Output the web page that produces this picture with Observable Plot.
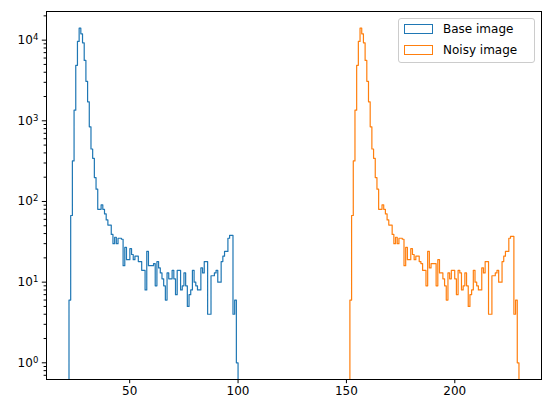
<!DOCTYPE html>
<html><head><meta charset="utf-8">
<script src="https://cdn.jsdelivr.net/npm/d3@7"></script>
<script src="https://cdn.jsdelivr.net/npm/@observablehq/plot@0.6"></script>
<style>
html,body{margin:0;padding:0;background:#fff;}
#wrap{position:relative;width:551px;height:413px;font-family:"DejaVu Sans",sans-serif;}
.legend{position:absolute;left:398px;top:18px;width:137px;height:45px;border:1px solid #cccccc;border-radius:3px;background:rgba(255,255,255,0.8);box-sizing:border-box;font-size:12px;color:#000;}
.item{position:absolute;left:5px;height:14px;display:flex;align-items:center;white-space:nowrap;}
.sw{width:29px;height:10px;box-sizing:border-box;border:1.3px solid;margin-right:10px;}
</style></head>
<body><div id="wrap"></div>
<script>
const seriesNames = ["Base image", "Noisy image"];
const seriesColors = ["#1f77b4", "#ff7f0e"];
const baseRange = [22, 100];
const noisyRange = [151.6, 229.6];
const baseCounts = [6,67,318,1355,4870,9640,14070,11960,9270,5610,
  3090,1717,843,447,343,198,142,80,80,91,
  80,70,59,51,51,39,30,36,30,35,
  35,34,16,27,19,19,26,22,19,21,
  21,18,18,14,14,8,24,16,16,16,
  17,9,18,15,13,11,9,6,13,11,
  11,14,11,7,14,14,8,9,13,9,
  5,7,8,14,10,9,8,8,15,13,
  18,18,4,4,12,12,13,14,10,10,
  18,21,24,24,35,38,38,4,6,1];
const noisyCounts = [6,67,318,1355,4870,9640,14070,11960,9270,5610,
  3090,1717,843,447,343,198,142,80,80,91,
  80,70,59,51,51,39,30,36,30,35,
  35,34,16,27,19,19,26,22,19,21,
  21,18,17,14,14,9,24,15,17,17,
  17,9,19,13,13,11,9,6,13,11,
  14,14,11,7,14,13,8,9,13,9,
  5,7,8,14,10,9,8,8,15,13,
  18,18,4,4,12,12,13,14,10,10,
  18,21,24,24,35,37,37,4,6,1];
const xTicks = [50, 100, 150, 200];
const yTicks = [1, 10, 100, 1000, 10000];
const xDomain = [11.62, 240.0];
const yDomain = [0.621, 22650];

const floorVal = 1e-3;
function stepPoints(range, counts, name) {
  const n = counts.length, w = (range[1] - range[0]) / n;
  const pts = [{x: range[0], y: floorVal, s: name}];
  counts.forEach((c, i) => {
    pts.push({x: range[0] + i * w, y: c, s: name});
    pts.push({x: range[0] + (i + 1) * w, y: c, s: name});
  });
  pts.push({x: range[1], y: floorVal, s: name});
  return pts;
}
const data = [
  ...stepPoints(baseRange, baseCounts, seriesNames[0]),
  ...stepPoints(noisyRange, noisyCounts, seriesNames[1])
];
const fmtPow = d => "10^" + Math.round(Math.log10(d));
const minorTicks = [];
for (let e = -1; e <= 4; e++) for (let m = 2; m <= 9; m++) {
  const v = m * Math.pow(10, e);
  if (v >= yDomain[0] && v <= yDomain[1]) minorTicks.push(v);
}

const chart = Plot.plot({
  width: 551, height: 413,
  marginLeft: 46, marginRight: 10, marginTop: 11, marginBottom: 34,
  style: {fontFamily: "DejaVu Sans", fontSize: "12px", background: "white", color: "black"},
  x: {domain: xDomain},
  y: {type: "log", domain: yDomain},
  color: {domain: seriesNames, range: seriesColors},
  marks: [
    Plot.line(data, {x: "x", y: "y", z: "s", stroke: "s", strokeWidth: 1.2, clip: true}),
    Plot.axisX({ticks: xTicks, tickSize: 4.2, tickPadding: 3, tickFormat: d => String(d), label: null}),
    Plot.axisY({ticks: yTicks, tickSize: 4.2, tickPadding: 4, tickFormat: fmtPow, label: null}),
    Plot.axisY({ticks: minorTicks, tickSize: 2.4, tickFormat: () => "", label: null}),
    Plot.frame({stroke: "black", strokeWidth: 1})
  ]
});
// render exponents as real superscripts
d3.select(chart).selectAll("text").each(function() {
  const t = this.textContent;
  const m = /^10\^(-?\d+)$/.exec(t);
  if (!m) return;
  const sel = d3.select(this);
  sel.text("10");
  sel.append("tspan").attr("dy", "-0.45em").attr("font-size", "8.5px").text(m[1]);
});
const wrap = document.getElementById("wrap");
wrap.appendChild(chart);

const leg = document.createElement("div");
leg.className = "legend";
seriesNames.forEach((name, i) => {
  const it = document.createElement("div");
  it.className = "item";
  it.style.top = (3 + i * 21) + "px";
  const sw = document.createElement("div");
  sw.className = "sw";
  sw.style.borderColor = seriesColors[i];
  const tx = document.createElement("span");
  tx.textContent = name;
  it.appendChild(sw); it.appendChild(tx);
  leg.appendChild(it);
});
wrap.appendChild(leg);
</script>
</body></html>
